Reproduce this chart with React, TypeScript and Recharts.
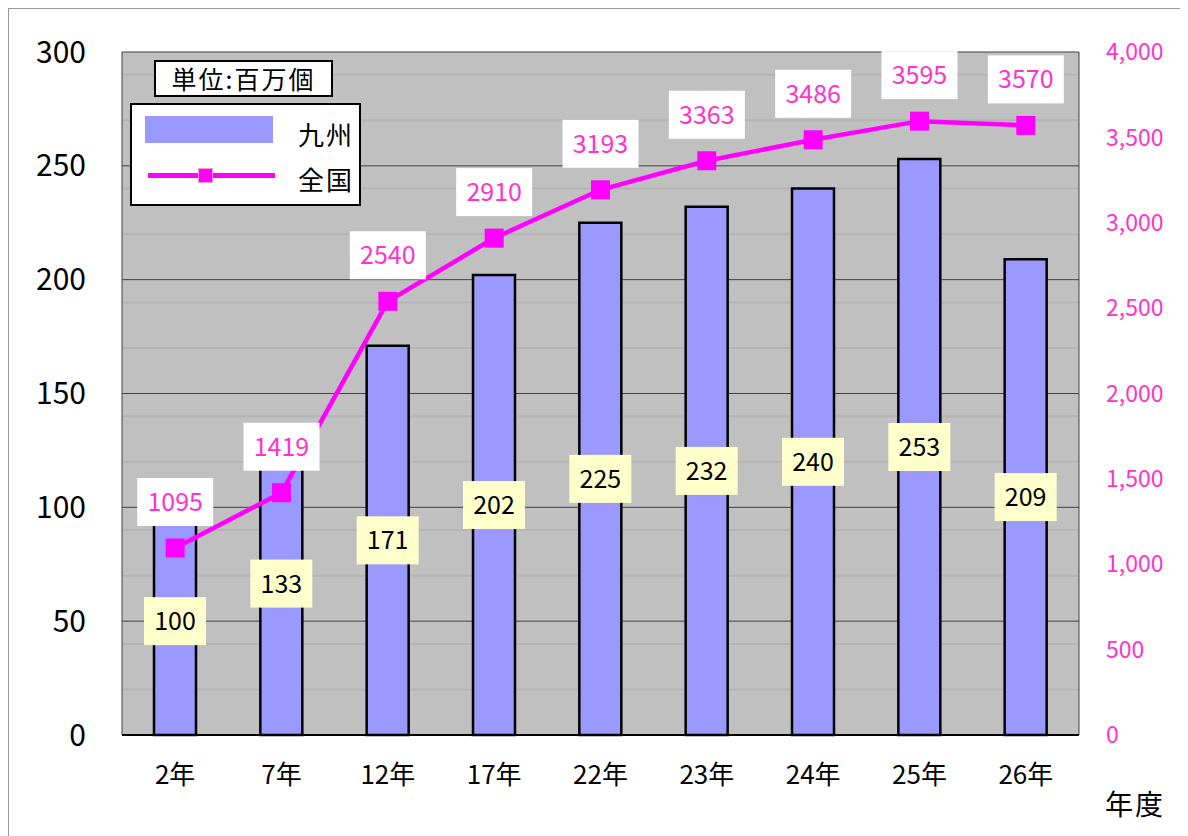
import { ComposedChart, Bar, Line, XAxis, YAxis, CartesianGrid, LabelList } from "recharts";

const categories = ["2年", "7年", "12年", "17年", "22年", "23年", "24年", "25年", "26年"];
const kyushu = [100, 133, 171, 202, 225, 232, 240, 253, 209];
const zenkoku = [1095, 1419, 2540, 2910, 3193, 3363, 3486, 3595, 3570];
const leftTicks = [0, 50, 100, 150, 200, 250, 300];
const minorTicks = [10, 20, 30, 40, 60, 70, 80, 90, 110, 120, 130, 140, 160, 170, 180, 190, 210, 220, 230, 240, 260, 270, 280, 290];
const rightTicks = [0, 500, 1000, 1500, 2000, 2500, 3000, 3500, 4000];

const FONT = "'Noto Sans CJK JP', 'Noto Sans', sans-serif";
const PINK_TEXT = "#FF33CC";

const data = categories.map((name, i) => ({ name, kyushu: kyushu[i], zenkoku: zenkoku[i] }));

function BarValueLabel(props: any) {
  const { x, y, width, height, value } = props;
  const cx = x + width / 2;
  const cy = y + height / 2;
  return (
    <g>
      <rect x={cx - 31} y={cy - 24} width={62} height={48} fill="#FFFFCC" />
      <text x={cx} y={cy + 9} textAnchor="middle" fontSize={25} fill="#000" fontFamily={FONT}>
        {value}
      </text>
    </g>
  );
}

function LineValueLabel(props: any) {
  const { x, y, value } = props;
  const cy = y - 46;
  return (
    <g>
      <rect x={x - 38} y={cy - 24} width={76} height={48} fill="#fff" />
      <text x={x} y={cy + 9} textAnchor="middle" fontSize={25} fill={PINK_TEXT} fontFamily={FONT}>
        {value}
      </text>
    </g>
  );
}

function SquareDot(props: any) {
  const { cx, cy } = props;
  if (cx == null || cy == null) return null;
  return <rect x={cx - 9.5} y={cy - 9.5} width={19} height={19} fill="#FF00FF" />;
}

function LegendBox() {
  return (
    <div
      style={{
        position: "absolute",
        left: 121,
        top: 94,
        width: 227,
        height: 99,
        border: "2px solid #000",
        background: "#fff",
        fontFamily: FONT,
        fontSize: 26,
        letterSpacing: 2,
        color: "#000",
      }}
    >
      <div style={{ position: "absolute", left: 13, top: 11, width: 128, height: 27, background: "#9999FF" }} />
      <div style={{ position: "absolute", left: 166, top: 10 }}>九州</div>
      <div style={{ position: "absolute", left: 16, top: 68, width: 127, height: 5, background: "#FF00FF" }} />
      <div
        style={{
          position: "absolute",
          left: 66,
          top: 63,
          width: 13,
          height: 13,
          background: "#FF00FF",
          border: "1px solid #FF99CC",
        }}
      />
      <div style={{ position: "absolute", left: 166, top: 55 }}>全国</div>
    </div>
  );
}

export default function App() {
  return (
    <div
      style={{
        position: "relative",
        width: 1179,
        height: 827,
        borderTop: "1px solid #999",
        borderLeft: "1px solid #999",
        background: "#fff",
        fontFamily: FONT,
      }}
    >
      <ComposedChart width={1179} height={827} data={data} margin={{ top: 43, right: 0, left: 0, bottom: 0 }} barSize={42}>
        <CartesianGrid
          yAxisId="left"
          vertical={false}
          horizontalValues={minorTicks}
          stroke="#B4B4B4"
          strokeWidth={2}
          fill="#C0C0C0"
        />
        <CartesianGrid yAxisId="left" vertical={false} horizontalValues={leftTicks} stroke="#404040" strokeWidth={1} />
        <XAxis
          dataKey="name"
          height={101}
          tickLine={false}
          axisLine={{ stroke: "#000", strokeWidth: 2 }}
          tick={{ fontSize: 26, fill: "#000", fontFamily: FONT }}
          tickMargin={25}
        />
        <YAxis
          yAxisId="left"
          orientation="left"
          width={113}
          domain={[0, 300]}
          ticks={leftTicks}
          tickLine={false}
          axisLine={{ stroke: "#404040" }}
          tick={{ fontSize: 30, fill: "#000", fontFamily: FONT }}
          tickMargin={30}
        />
        <YAxis
          yAxisId="right"
          orientation="right"
          width={109}
          domain={[0, 4000]}
          ticks={rightTicks}
          tickLine={false}
          axisLine={{ stroke: "#404040" }}
          tick={{ fontSize: 23, fill: PINK_TEXT, fontFamily: FONT }}
          tickMargin={21}
          tickFormatter={(v: number) => v.toLocaleString("en-US")}
        />
        <Bar yAxisId="left" dataKey="kyushu" name="九州" fill="#9999FF" stroke="#000" strokeWidth={2.5} isAnimationActive={false}>
          <LabelList dataKey="kyushu" content={BarValueLabel} />
        </Bar>
        <Line
          yAxisId="right"
          dataKey="zenkoku"
          name="全国"
          type="linear"
          stroke="#FF00FF"
          strokeWidth={4.5}
          dot={<SquareDot />}
          activeDot={false}
          isAnimationActive={false}
        >
          <LabelList dataKey="zenkoku" content={LineValueLabel} />
        </Line>
      </ComposedChart>
      <LegendBox />
      <div
        style={{
          position: "absolute",
          left: 145,
          top: 51,
          width: 175,
          height: 33,
          border: "2px solid #000",
          background: "#fff",
          fontSize: 25,
          letterSpacing: 2,
          lineHeight: "33px",
          textAlign: "center",
          color: "#000",
        }}
      >
        単位:百万個
      </div>
      <div style={{ position: "absolute", left: 1096, top: 774, fontSize: 28, letterSpacing: 2, color: "#000" }}>年度</div>
    </div>
  );
}
